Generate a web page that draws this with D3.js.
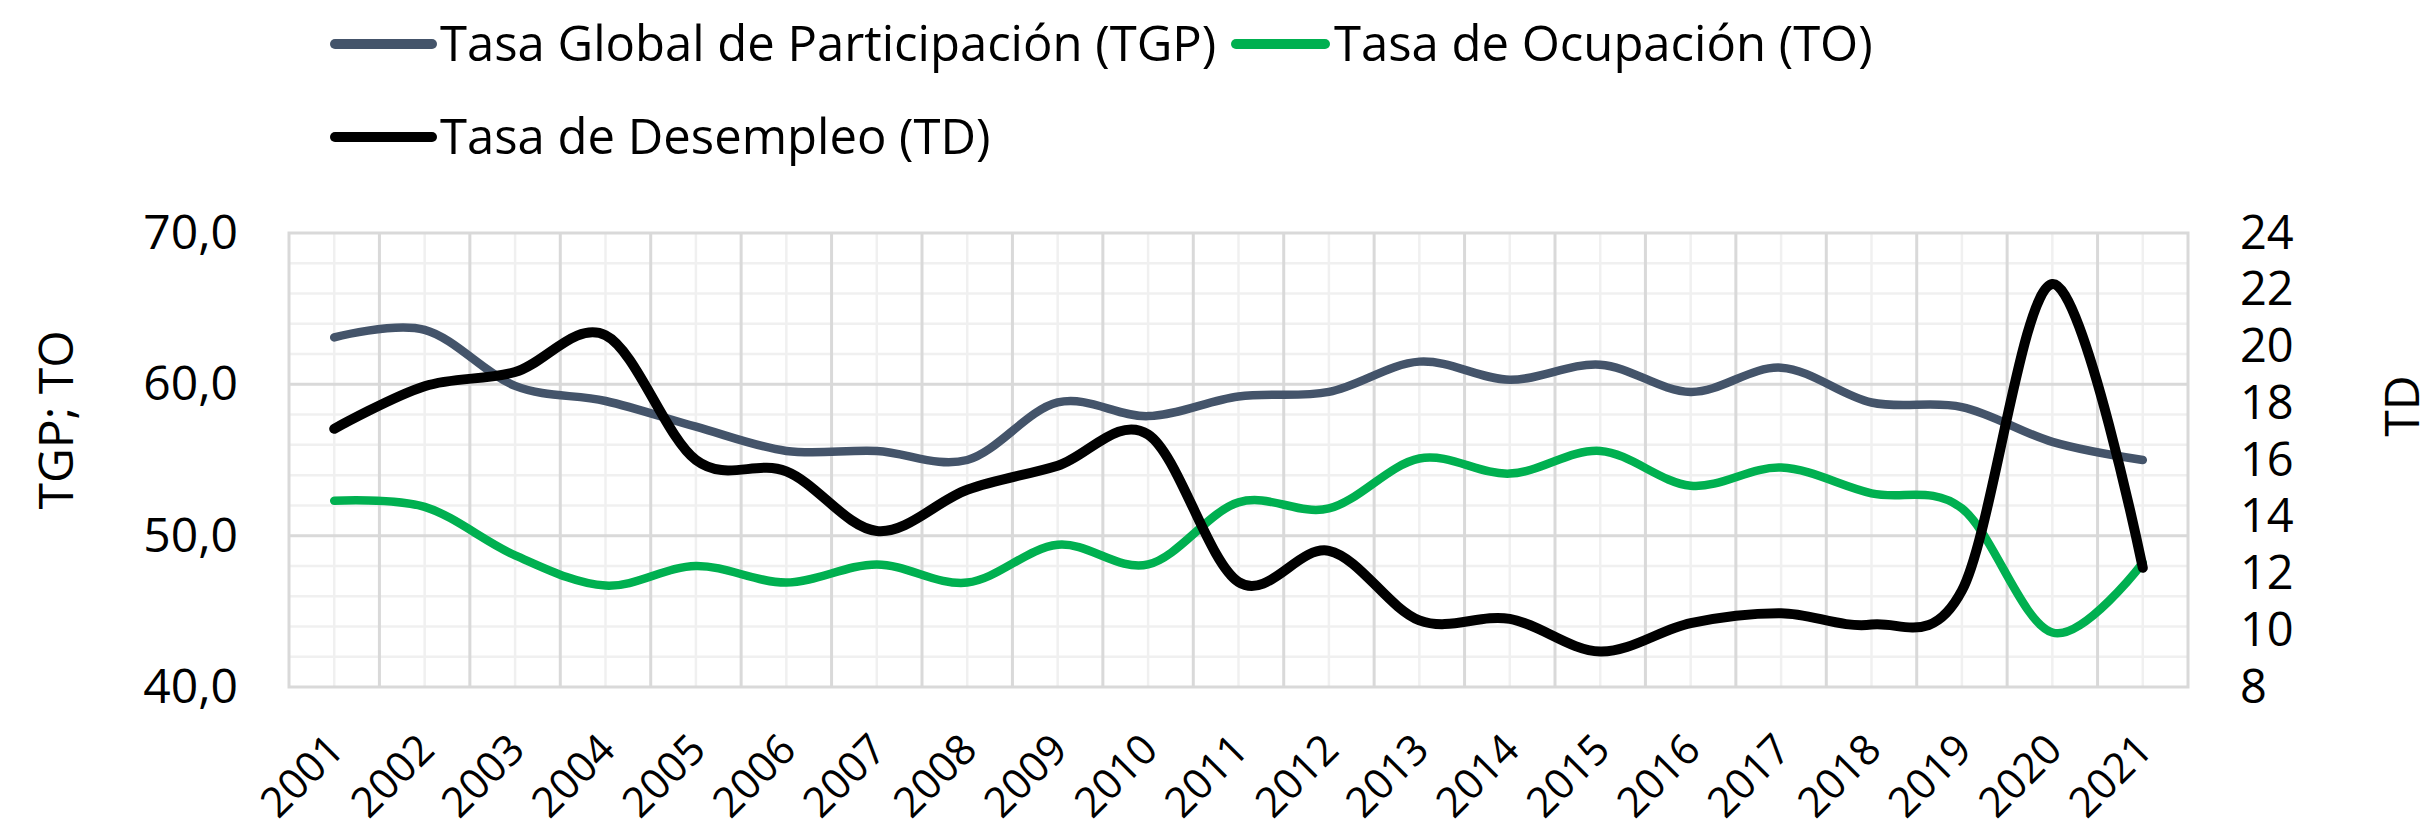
<!DOCTYPE html>
<html>
<head>
<meta charset="utf-8">
<script src="https://cdn.jsdelivr.net/npm/d3@7"></script>
<style>
  html, body { margin: 0; padding: 0; background: #fff; }
  svg { display: block; }
  text { font-family: "Open Sans", "Noto Sans", sans-serif; fill: #000; }
</style>
</head>
<body>
<svg id="chart" width="2433" height="827"></svg>
<script>
const years = ["2001","2002","2003","2004","2005","2006","2007","2008","2009","2010","2011","2012","2013","2014","2015","2016","2017","2018","2019","2020","2021"];
const tgp = [63.1, 63.6, 59.9, 58.9, 57.2, 55.6, 55.6, 55.0, 58.8, 57.9, 59.2, 59.5, 61.5, 60.3, 61.3, 59.5, 61.1, 58.8, 58.5, 56.2, 55.0];
const to  = [52.3, 51.9, 48.7, 46.7, 48.0, 46.9, 48.1, 46.9, 49.4, 48.1, 52.2, 51.8, 55.1, 54.1, 55.6, 53.3, 54.5, 52.8, 51.8, 43.6, 48.2];
const td  = [17.1, 18.6, 19.1, 20.4, 16.0, 15.6, 13.5, 14.95, 15.8, 16.9, 11.7, 12.8, 10.35, 10.4, 9.25, 10.25, 10.6, 10.2, 11.4, 22.2, 12.2];
const leftTicks = [40, 50, 60, 70];
const rightTicks = [8, 10, 12, 14, 16, 18, 20, 22, 24];
const seriesNames = ["Tasa Global de Participación (TGP)", "Tasa de Ocupación (TO)", "Tasa de Desempleo (TD)"];
const seriesColors = ["#44546A", "#00B050", "#000000"];
const leftTitle = "TGP; TO";
const rightTitle = "TD";

const svg = d3.select("#chart");
const L = 289, R = 2188, T = 233, B = 687;

const x = d3.scaleBand().domain(years).range([L, R]).padding(0);
const cx = d => x(d) + x.bandwidth() / 2;
const yL = d3.scaleLinear().domain([40, 70]).range([B, T]);
const yR = d3.scaleLinear().domain([8, 24]).range([B, T]);

const grid = svg.append("g");
const minorH = d3.range(40, 70.001, 2).filter(v => v % 10 !== 0);
grid.selectAll(".mh").data(minorH).join("line")
  .attr("x1", L).attr("x2", R).attr("y1", d => yL(d)).attr("y2", d => yL(d))
  .attr("stroke", "#f0f0f0").attr("stroke-width", 2.5);
grid.selectAll(".mv").data(years).join("line")
  .attr("x1", d => cx(d)).attr("x2", d => cx(d)).attr("y1", T).attr("y2", B)
  .attr("stroke", "#f0f0f0").attr("stroke-width", 2.5);
grid.selectAll(".Mh").data([50, 60]).join("line")
  .attr("x1", L).attr("x2", R).attr("y1", d => yL(d)).attr("y2", d => yL(d))
  .attr("stroke", "#d9d9d9").attr("stroke-width", 3);
grid.selectAll(".Mv").data(years.slice(1)).join("line")
  .attr("x1", d => x(d)).attr("x2", d => x(d)).attr("y1", T).attr("y2", B)
  .attr("stroke", "#d9d9d9").attr("stroke-width", 3);
grid.append("rect").attr("x", L).attr("y", T).attr("width", R - L).attr("height", B - T)
  .attr("fill", "none").attr("stroke", "#d9d9d9").attr("stroke-width", 3);

const fmt = d => d.toFixed(1).replace(".", ",");
const gL = svg.append("g").attr("transform", `translate(${L},0)`)
  .call(d3.axisLeft(yL).tickValues(leftTicks).tickFormat(fmt).tickSize(0).tickPadding(51));
gL.select(".domain").remove();
gL.selectAll("text").style("font-size", "48px").style("font-family", "'Open Sans', sans-serif").attr("fill", "#000");

const gR = svg.append("g").attr("transform", `translate(${R},0)`)
  .call(d3.axisRight(yR).tickValues(rightTicks).tickFormat(d3.format("d")).tickSize(0).tickPadding(52));
gR.select(".domain").remove();
gR.selectAll("text").style("font-size", "47px").style("font-family", "'Open Sans', sans-serif").attr("fill", "#000");

svg.append("g").selectAll("text").data(years).join("text")
  .attr("transform", d => `translate(${cx(d) + 12},${752}) rotate(-45)`)
  .attr("text-anchor", "end")
  .style("font-size", "42px")
  .text(d => d);

svg.append("text").attr("transform", `translate(54,420) rotate(-90)`)
  .attr("text-anchor", "middle").attr("dominant-baseline", "central")
  .style("font-size", "48px").text(leftTitle);
svg.append("text").attr("transform", `translate(2400,406) rotate(-90)`)
  .attr("text-anchor", "middle").attr("dominant-baseline", "central")
  .style("font-size", "48px").text(rightTitle);

const curve = d3.curveCardinal.tension(0);
const lineL = d3.line().x((d, i) => cx(years[i])).y(d => yL(d)).curve(curve);
const lineR = d3.line().x((d, i) => cx(years[i])).y(d => yR(d)).curve(curve);
svg.append("path").attr("d", lineL(tgp)).attr("fill", "none").attr("stroke", seriesColors[0])
  .attr("stroke-width", 8.5).attr("stroke-linecap", "round").attr("stroke-linejoin", "round");
svg.append("path").attr("d", lineL(to)).attr("fill", "none").attr("stroke", seriesColors[1])
  .attr("stroke-width", 8.5).attr("stroke-linecap", "round").attr("stroke-linejoin", "round");
svg.append("path").attr("d", lineR(td)).attr("fill", "none").attr("stroke", seriesColors[2])
  .attr("stroke-width", 10).attr("stroke-linecap", "round").attr("stroke-linejoin", "round");

const legendPos = [
  {mx1: 335, mx2: 432, my: 44, tx: 440, ty: 61},
  {mx1: 1236, mx2: 1325, my: 44, tx: 1334, ty: 61},
  {mx1: 335, mx2: 432, my: 137, tx: 440, ty: 154}
];
const lg = svg.append("g");
seriesNames.forEach((name, i) => {
  const p = legendPos[i];
  lg.append("line").attr("x1", p.mx1).attr("x2", p.mx2).attr("y1", p.my).attr("y2", p.my)
    .attr("stroke", seriesColors[i]).attr("stroke-width", 10).attr("stroke-linecap", "round");
  lg.append("text").attr("x", p.tx).attr("y", p.ty).style("font-size", "49px").text(name);
});
</script>
</body>
</html>
